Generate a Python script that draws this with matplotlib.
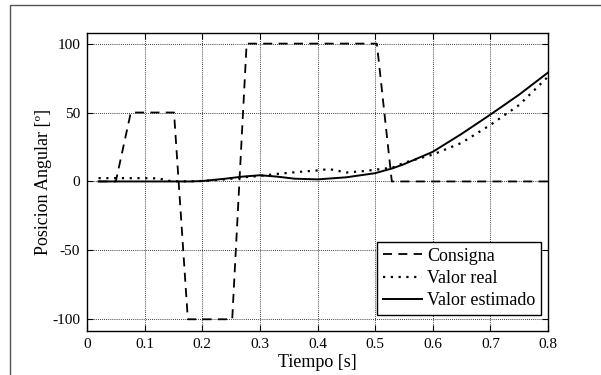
import matplotlib
matplotlib.use("Agg")
import matplotlib.pyplot as plt
from matplotlib.patches import Rectangle
import numpy as np

plt.rcParams['font.family'] = ['Liberation Serif', 'DejaVu Serif']
plt.rcParams['mathtext.fontset'] = 'stix'

# Consigna (set point)
t_cons = [0.02, 0.05, 0.076, 0.151, 0.175, 0.252, 0.277, 0.503, 0.529, 0.8]
y_cons = [0, 0, 50, 50, -100, -100, 100, 100, 0, 0]

# Valor real (measured)
t_real = [0.02, 0.05, 0.10, 0.125, 0.14, 0.16, 0.20, 0.24, 0.27, 0.30, 0.33, 0.37,
          0.40, 0.42, 0.45, 0.48, 0.50, 0.53, 0.55, 0.60, 0.65, 0.70, 0.75, 0.80]
y_real = [2.4, 2.4, 2.4, 2.2, 0.5, 0.0, 0.3, 1.5, 3.0, 4.0, 5.5, 7.0,
          8.0, 9.0, 6.5, 7.5, 8.5, 10.0, 13.5, 19.5, 28.0, 41.0, 55.5, 76.0]

# Valor estimado (estimated)
t_est = [0.02, 0.10, 0.18, 0.20, 0.24, 0.27, 0.30, 0.33, 0.36, 0.40, 0.45, 0.50,
         0.53, 0.55, 0.60, 0.65, 0.70, 0.75, 0.80]
y_est = [0, 0, 0, 0.3, 2.0, 3.5, 4.5, 3.5, 2.0, 1.5, 3.0, 6.0,
         9.5, 12.5, 21.5, 34.5, 48.5, 63.0, 79.0]

x_ticks = [0, 0.1, 0.2, 0.3, 0.4, 0.5, 0.6, 0.7, 0.8]
x_ticklabels = ['0', '0.1', '0.2', '0.3', '0.4', '0.5', '0.6', '0.7', '0.8']
y_ticks = [-100, -50, 0, 50, 100]
y_ticklabels = ['-100', '-50', '0', '50', '100']

fig = plt.figure(figsize=(6.01, 3.75), dpi=100)
W, H = 601, 375
ax = fig.add_axes([87 / W, 1 - 331 / H, (548 - 87) / W, (331 - 33) / H])

# outer frame of the figure
fig.patches.append(Rectangle((10 / W, -0.1), 1.2, 1 - 5 / H + 0.1, transform=fig.transFigure,
                             fill=False, edgecolor='#555555', linewidth=1.0))

ax.plot(t_cons, y_cons, color='black', linestyle=(0, (5, 3.5)), linewidth=1.3, label='Consigna')
ax.plot(t_real, y_real, color='black', linestyle=(0, (1, 2.5)), linewidth=1.6, label='Valor real')
ax.plot(t_est, y_est, color='black', linestyle='-', linewidth=1.4, label='Valor estimado')

ax.set_xlim(0, 0.8)
ax.set_ylim(-108.5, 107.7)
ax.set_xticks(x_ticks)
ax.set_xticklabels(x_ticklabels)
ax.set_yticks(y_ticks)
ax.set_yticklabels(y_ticklabels)
ax.tick_params(direction='in', length=4, width=0.8, top=True, right=True,
               labelsize=11, pad=5, colors='black')
ax.grid(True, color='black', linestyle=(0, (1, 1.5)), linewidth=0.6)
for s in ax.spines.values():
    s.set_linewidth(1.0)

ax.set_xlabel('Tiempo [s]', fontsize=13, labelpad=2)
ax.set_ylabel('Posicion Angular [º]', fontsize=13, labelpad=0)

leg = ax.legend(loc='lower right', bbox_to_anchor=(0.984, 0.054), fontsize=13, frameon=True,
                fancybox=False, edgecolor='black', framealpha=1, borderpad=0.3,
                labelspacing=0.3, handlelength=2.2, handletextpad=0.25, borderaxespad=0)
leg.get_frame().set_linewidth(1.0)

fig.savefig('out.png', dpi=100)
